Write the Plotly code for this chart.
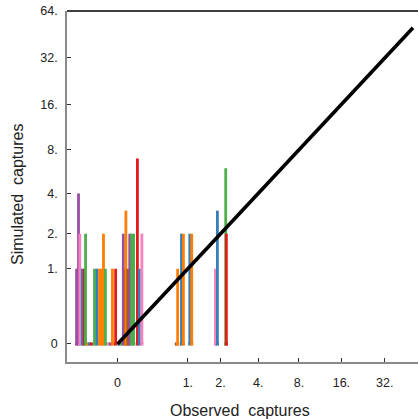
import numpy as np
import plotly.graph_objects as go

# Observed vs simulated captures, one vertical segment per individual
# (observed count jittered horizontally, drawn from 0 up to the simulated count).
observed = [0] * 31 + [1] * 6 + [2] * 4
jitter = [
    -0.64, -0.61, -0.59, -0.55, -0.52, -0.50, -0.47, -0.44, -0.41, -0.36,
    -0.32, -0.28, -0.25, -0.22, -0.19, -0.14, -0.11, -0.08, -0.03, 0.02,
    0.05, 0.09, 0.12, 0.13, 0.16, 0.19, 0.22, 0.25, 0.31, 0.34, 0.38,
    -0.18, -0.16, -0.10, -0.07, 0.03, 0.06,
    -0.08, -0.05, 0.08, 0.09,
]
simulated = [
    1, 4, 2, 1, 1, 2, 0, 0, 0, 1,
    1, 1, 1, 2, 1, 0, 0, 1, 1, 0,
    0, 2, 1, 3, 1, 2, 2, 2, 7, 1, 2,
    0, 1, 2, 2, 2, 2,
    1, 3, 6, 2,
]
colour_key = [
    "purple", "purple", "pink", "blue", "red", "green", "orange", "blue", "red", "green",
    "blue", "orange", "orange", "orange", "green", "pink", "purple", "orange", "red", "blue",
    "green", "purple", "brown", "orange", "brown", "purple", "green", "green", "red", "blue", "pink",
    "brown", "orange", "blue", "orange", "blue", "orange",
    "pink", "blue", "green", "red",
]
palette = {
    "red": "#e41a1c", "blue": "#377eb8", "green": "#4daf4a", "purple": "#984ea3",
    "orange": "#ff7f00", "brown": "#a65628", "pink": "#f781bf",
}

x_ticks = [0, 1, 2, 4, 8, 16, 32]
x_tick_text = ["0", "1.", "2.", "4.", "8.", "16.", "32."]
y_ticks = [0, 1, 2, 4, 8, 16, 32, 64]
y_tick_text = ["0", "1.", "2.", "4.", "8.", "16.", "32.", "64."]
identity_end = 50


def scale(v):
    """Shifted log scale used on both axes."""
    return np.log(np.asarray(v, dtype=float) + 0.5)


xs = scale(observed) + np.asarray(jitter)
fig = go.Figure()

# baseline markers for every individual
fig.add_trace(go.Scatter(
    x=xs, y=scale(np.zeros(len(xs))), mode="markers",
    marker=dict(symbol="square", size=3.2, color=[palette[c] for c in colour_key], line=dict(width=0)),
    hoverinfo="skip", showlegend=False,
))

for xv, sv, c in zip(xs, simulated, colour_key):
    if sv <= 0:
        continue
    fig.add_trace(go.Scatter(
        x=[xv, xv], y=scale([0, sv]), mode="lines",
        line=dict(color=palette[c], width=2.8),
        hoverinfo="skip", showlegend=False,
    ))

# 1:1 reference line
fig.add_trace(go.Scatter(
    x=scale([0, identity_end]), y=scale([0, identity_end]), mode="lines",
    line=dict(color="black", width=3.6), hoverinfo="skip", showlegend=False,
))

font = "Liberation Sans, Arial, Helvetica, sans-serif"
axis_common = dict(
    showgrid=False, zeroline=False, showline=True, linecolor="#8a8a8a", linewidth=1.5,
    ticks="inside", ticklen=4, tickwidth=1, tickcolor="#333333",
    tickfont=dict(family=font, size=12.5, color="#222222"),
)
fig.update_xaxes(
    range=[-1.483, 4.0], tickvals=scale(x_ticks), ticktext=x_tick_text,
    ticklabelstandoff=8, **axis_common,
)
fig.update_yaxes(
    range=[-0.956, 4.167], tickvals=scale(y_ticks), ticktext=y_tick_text,
    ticklabelstandoff=5, **axis_common,
)

fig.update_layout(
    width=418, height=419,
    margin=dict(l=67, r=0, t=11, b=57),
    plot_bgcolor="white", paper_bgcolor="white",
    font=dict(family=font, color="#222222"),
    shapes=[dict(type="line", xref="paper", yref="paper", x0=0, x1=1, y0=1, y1=1,
                 line=dict(color="black", width=1.4))],
    annotations=[
        dict(text="Observed\u00a0\u00a0captures", xref="paper", yref="paper",
             x=(240 - 67) / 351, y=-(410 - 362) / 351, showarrow=False,
             font=dict(size=16, family=font, color="#222222"), xanchor="center", yanchor="middle"),
        dict(text="Simulated\u00a0\u00a0captures", xref="paper", yref="paper",
             x=-(67 - 17) / 351, y=(362 - 195) / 351, showarrow=False, textangle=-90,
             font=dict(size=16, family=font, color="#222222"), xanchor="center", yanchor="middle"),
    ],
)

fig.write_html("out.html")
